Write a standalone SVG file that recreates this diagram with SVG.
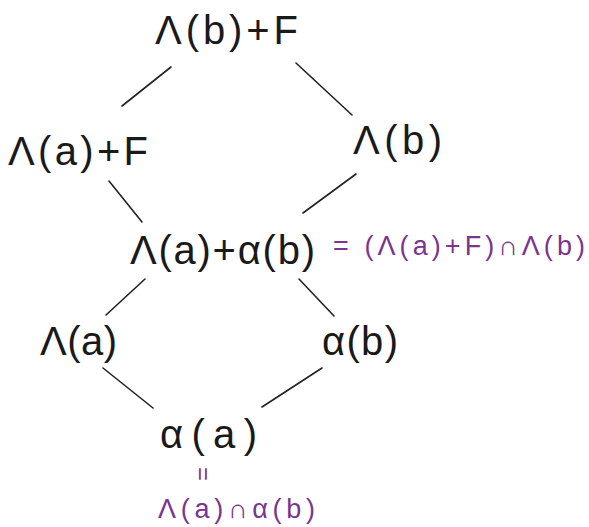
<svg xmlns="http://www.w3.org/2000/svg" width="589" height="527" viewBox="0 0 589 527">
<style>
.n{font-family:"Liberation Sans","DejaVu Sans",sans-serif;font-size:40px;fill:#1a1a1a}
.p{font-family:"Liberation Sans","DejaVu Sans",sans-serif;font-size:27px;fill:#7a3590}
.c line{stroke:#222;stroke-width:1.6;stroke-linecap:round}
</style>
<rect width="589" height="527" fill="#fff"/>
<g class="c" id="connectors">
<line x1="171" y1="67" x2="122" y2="106"/>
<line x1="296" y1="63" x2="352" y2="115"/>
<line x1="109" y1="181" x2="142" y2="222"/>
<line x1="356" y1="174" x2="303" y2="213"/>
<line x1="145" y1="279" x2="106" y2="315"/>
<line x1="299" y1="279" x2="334" y2="316"/>
<line x1="103" y1="368" x2="153" y2="408"/>
<line x1="322" y1="368" x2="262" y2="407"/>
</g>
<g id="top"><text class="n" x="155" y="44" textLength="143" lengthAdjust="spacing">Λ(b)+F</text></g>
<g id="laF"><text class="n" x="8" y="165" textLength="140" lengthAdjust="spacing">Λ(a)+F</text></g>
<g id="lb"><text class="n" x="353" y="154" textLength="89" lengthAdjust="spacing">Λ(b)</text></g>
<g id="mid">
<text class="n" x="130" y="264" textLength="185" lengthAdjust="spacing">Λ(a)+α(b)</text>
<text class="p" x="333" y="255" textLength="252" lengthAdjust="spacing">= (Λ(a)+F)∩Λ(b)</text>
</g>
<g id="la"><text class="n" x="40" y="355" textLength="77" lengthAdjust="spacing">Λ(a)</text></g>
<g id="ab"><text class="n" x="322" y="355" textLength="76" lengthAdjust="spacing">α(b)</text></g>
<g id="aa">
<text class="n" x="160" y="448" textLength="97" lengthAdjust="spacing">α(a)</text>
<text class="p" transform="translate(203,474) rotate(90)" text-anchor="middle" y="8" style="font-size:24px">=</text>
<text class="p" x="158" y="518" textLength="157" lengthAdjust="spacing">Λ(a)∩α(b)</text>
</g>
</svg>
